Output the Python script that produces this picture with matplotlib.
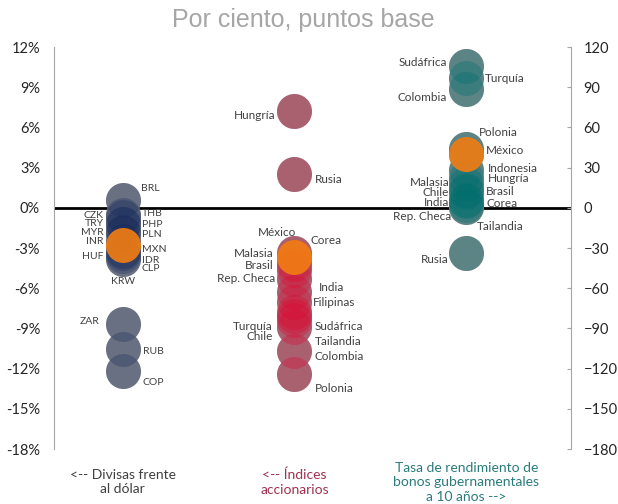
import matplotlib.pyplot as plt
from matplotlib.ticker import FuncFormatter

# --- data ---------------------------------------------------------------
# currencies vs USD (%)
fx_names = ['BRL', 'THB', 'CZK', 'PHP', 'TRY', 'MYR', 'PLN', 'INR', 'MXN',
            'HUF', 'IDR', 'CLP', 'KRW', 'ZAR', 'RUB', 'COP']
fx_vals = [0.6, -0.5, -0.7, -1.2, -1.2, -1.8, -1.9, -2.5, -2.8,
           -3.2, -3.4, -3.6, -3.8, -8.7, -10.5, -12.2]

# stock indices (%)
eq_names = ['Hungría', 'Rusia', 'Corea', 'México', 'Malasia', 'Brasil',
            'Rep. Checa', 'India', 'Filipinas', 'Turquía', 'Sudáfrica',
            'Chile', 'Tailandia', 'Colombia', 'Polonia']
eq_vals = [7.2, 2.5, -3.4, -3.7, -4.2, -4.6, -5.3, -6.3, -7.0, -7.8, -8.1,
           -8.4, -8.9, -10.7, -12.4]

# 10y government bond yields (bps)
bond_names = ['Sudáfrica', 'Turquía', 'Colombia', 'Polonia', 'México',
              'Indonesia', 'Hungría', 'Malasia', 'Brasil', 'Chile', 'India',
              'Corea', 'Rep. Checa', 'Tailandia', 'Rusia']
bond_vals = [106, 97, 89, 44, 40, 28, 22, 18, 13, 12, 6, 5, 2, 1, -34]

pct_ticks = list(range(-18, 13, 3))
bps_ticks = list(range(-180, 121, 30))

group_titles = ['<-- Divisas frente\nal dólar',
                '<-- Índices\naccionarios',
                'Tasa de rendimiento de\nbonos gubernamentales\na 10 años -->']

# --- label layout (ha, dx px, dy px) -------------------------------------
fx_layout = [('left', 18, 11), ('left', 19, 1), ('right', -19, 2),
             ('left', 19, -1), ('right', -19, 0), ('right', -19, -1),
             ('left', 19, -1.5), ('right', -19, 0), ('left', 19, -4.5),
             ('right', -19, -6), ('left', 19, -7), ('left', 19, -12),
             ('center', 0, -23), ('right', -23, 3), ('left', 20, -3),
             ('left', 20, -11)]
eq_layout = [('right', -19, -4), ('left', 20, -5), ('left', 16, 13),
             ('center', -17, 25), ('right', -21, 11), ('right', -21, 4),
             ('right', -19, 0), ('left', 24, 5), ('left', 18, -1),
             ('right', -22, -14), ('left', 20, -10), ('right', -22, -16),
             ('left', 20, -14), ('left', 20, -5), ('left', 20, -14)]
bond_layout = [('right', -19, 3), ('left', 19, -1), ('right', -19, -9),
               ('left', 13, 16), ('left', 20, 4), ('left', 22, 1.5),
               ('left', 22, 0), ('right', -17, 1), ('left', 20, -1),
               ('right', -17, -1), ('right', -17, -3), ('left', 20, -2),
               ('right', -15, -11), ('left', 11, -20), ('right', -18, -6)]

BASE_GRAY = '#8e9092'
ORANGE = '#f07d14'
BUBBLE = 635
LABEL_COLOR = '#404040'
FONT = 'Lato'


def draw_group(axis, x, names, vals, tint, alpha, highlight, layout, fs):
    xs = [x] * len(vals)
    # opaque gray under-disk + tinted translucent disk -> overlaps get saturated
    axis.scatter(xs, vals, s=BUBBLE, color=BASE_GRAY, lw=0, zorder=2)
    axis.scatter(xs, vals, s=BUBBLE, color=tint, alpha=alpha, lw=0, zorder=3)
    hv = [v for n, v in zip(names, vals) if n == highlight]
    axis.scatter([x] * len(hv), hv, s=BUBBLE, color=ORANGE, alpha=0.92,
                 lw=0, zorder=4)
    for n, v, (ha, dx, dy) in zip(names, vals, layout):
        axis.annotate(n, xy=(x, v), xytext=(dx, dy), textcoords='offset pixels',
                      ha=ha, va='center', fontsize=fs, color=LABEL_COLOR,
                      family=FONT, zorder=5)


fig = plt.figure(figsize=(6.18, 5.04), dpi=100)
ax = fig.add_axes([0.0874, 0.109, 0.8366, 0.7976])
ax2 = ax.twinx()

ax.set_xlim(0.6, 3.61)
ax.set_ylim(pct_ticks[0], pct_ticks[-1])
ax2.set_ylim(bps_ticks[0], bps_ticks[-1])
ax.set_xticks([])

ax.axhline(0, color='black', lw=2, zorder=1)

draw_group(ax, 1, fx_names, fx_vals, '#14285a', 0.30, 'MXN', fx_layout, 7.5)
draw_group(ax, 2, eq_names, eq_vals, '#dc0a32', 0.35, 'México', eq_layout, 8.5)
draw_group(ax2, 3, bond_names, bond_vals, '#006e6e', 0.35, 'México',
           bond_layout, 8.5)

# axes styling
for s in ['top', 'bottom', 'right']:
    ax.spines[s].set_visible(False)
for s in ['top', 'bottom', 'left']:
    ax2.spines[s].set_visible(False)
ax.spines['left'].set_color('#a6a6a6')
ax2.spines['right'].set_color('#a6a6a6')

ax.set_yticks(pct_ticks)
ax.yaxis.set_major_formatter(FuncFormatter(lambda v, p: f'{int(v)}%'))
ax.tick_params(axis='y', length=0, pad=10, labelsize=10.5,
               labelcolor='#262626')
ax2.set_yticks(bps_ticks)
ax2.tick_params(axis='y', direction='in', length=3, color='#a6a6a6', pad=9,
                labelsize=10.5, labelcolor='#262626')
for lab in ax.get_yticklabels() + ax2.get_yticklabels():
    lab.set_family(FONT)

# group captions under the axis
title_colors = ['#404040', '#a0304f', '#2a7b7b']
for i, (t, c) in enumerate(zip(group_titles, title_colors)):
    ax.text(i + 1, -0.082, t, transform=ax.get_xaxis_transform(),
            ha='center', va='center', multialignment='center', fontsize=10,
            color=c, family=FONT, linespacing=1.25, clip_on=False)

fig.text(0.49, 0.96, 'Por ciento, puntos base', ha='center', va='center',
         fontsize=18, color='#a6a6a6', family='Liberation Sans')

fig.savefig('out.png', dpi=100)
